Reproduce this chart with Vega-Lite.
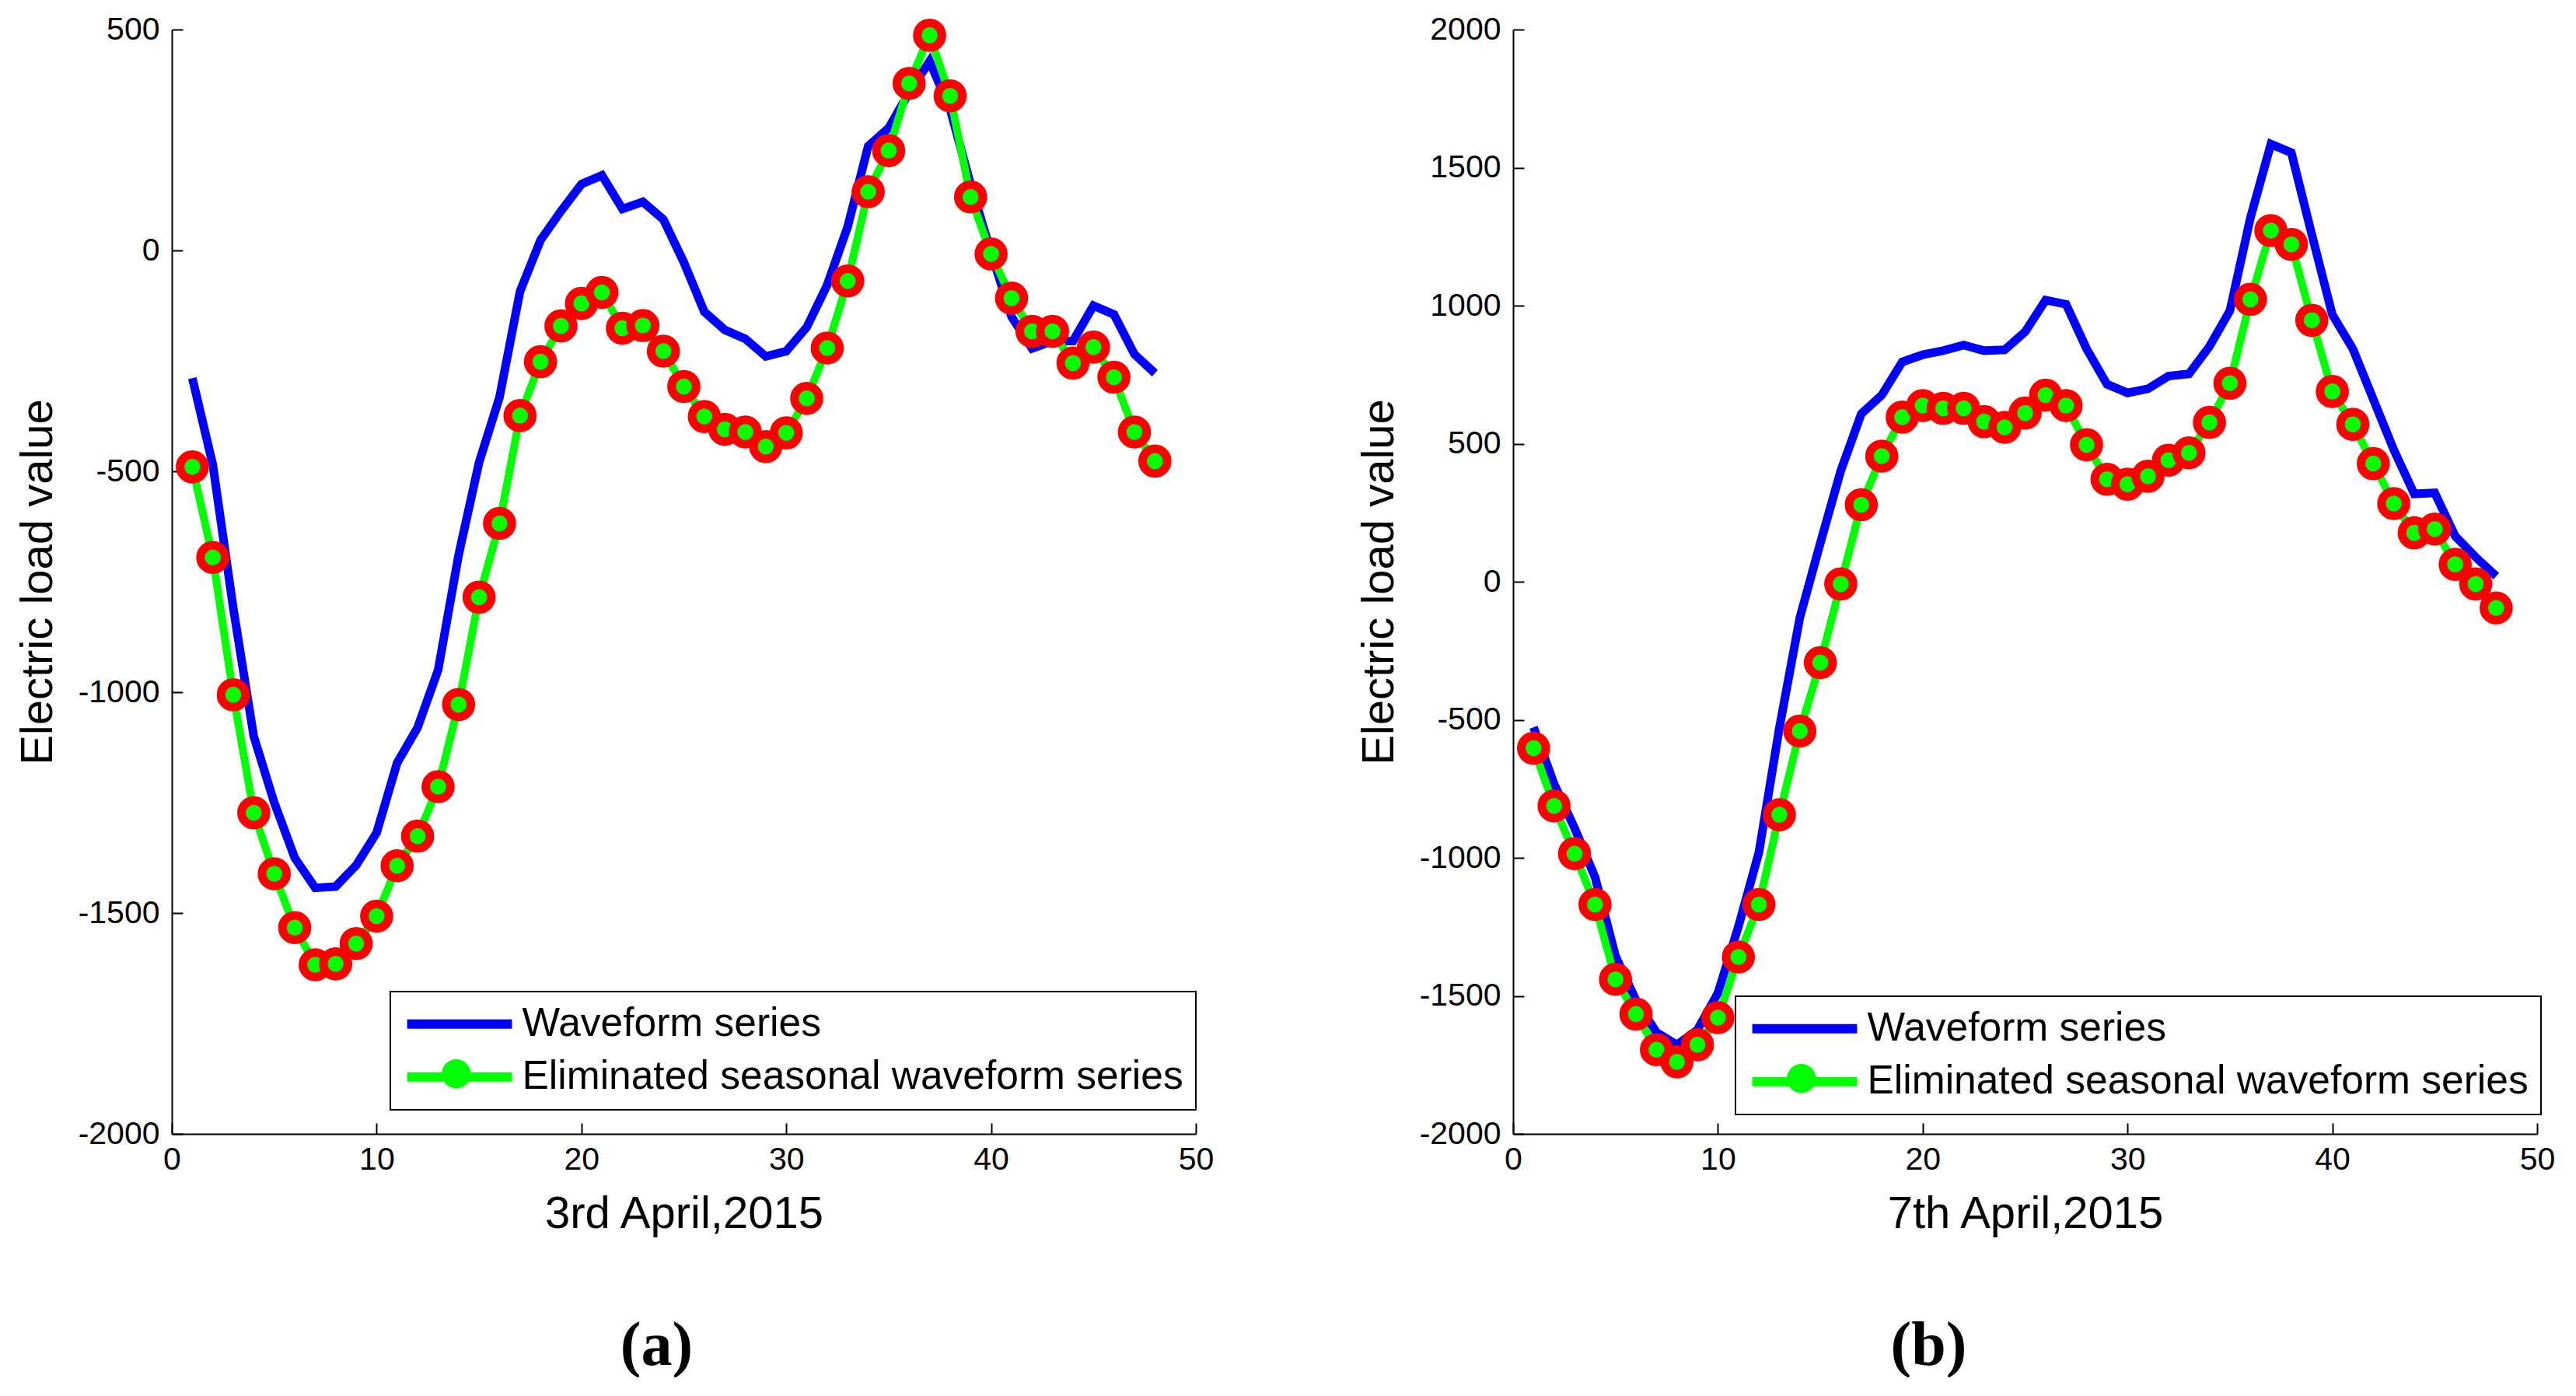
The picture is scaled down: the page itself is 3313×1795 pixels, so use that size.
{
  "$schema": "https://vega.github.io/schema/vega-lite/v6.json",
  "padding": {"left": 20, "top": 7, "right": 0, "bottom": 0},
  "background": "white",
  "config": {
    "view": {"stroke": null},
    "font": "Liberation Sans",
    "axis": {
      "domainColor": "black", "domainWidth": 2,
      "tickColor": "black", "tickWidth": 2, "tickSize": -14,
      "labelFont": "Liberation Sans", "labelFontSize": 41, "labelColor": "black",
      "titleFont": "Liberation Sans", "titleFontSize": 58, "titleFontWeight": "normal", "titleColor": "black",
      "grid": false, "labelFlush": false, "labelOverlap": false
    }
  },
  "datasets": {
    "a": [
      {"x":1,"s":"W","v":-289},{"x":2,"s":"W","v":-485},{"x":3,"s":"W","v":-810},{"x":4,"s":"W","v":-1100},{"x":5,"s":"W","v":-1250},{"x":6,"s":"W","v":-1375},{"x":7,"s":"W","v":-1443},{"x":8,"s":"W","v":-1440},{"x":9,"s":"W","v":-1392},{"x":10,"s":"W","v":-1318},{"x":11,"s":"W","v":-1160},{"x":12,"s":"W","v":-1080},{"x":13,"s":"W","v":-950},{"x":14,"s":"W","v":-690},{"x":15,"s":"W","v":-480},{"x":16,"s":"W","v":-332},{"x":17,"s":"W","v":-93},{"x":18,"s":"W","v":23},{"x":19,"s":"W","v":89},{"x":20,"s":"W","v":150},{"x":21,"s":"W","v":170},{"x":22,"s":"W","v":94},{"x":23,"s":"W","v":110},{"x":24,"s":"W","v":70},{"x":25,"s":"W","v":-27},{"x":26,"s":"W","v":-139},{"x":27,"s":"W","v":-180},{"x":28,"s":"W","v":-200},{"x":29,"s":"W","v":-240},{"x":30,"s":"W","v":-228},{"x":31,"s":"W","v":-174},{"x":32,"s":"W","v":-78},{"x":33,"s":"W","v":54},{"x":34,"s":"W","v":236},{"x":35,"s":"W","v":277},{"x":36,"s":"W","v":358},{"x":37,"s":"W","v":428},{"x":38,"s":"W","v":320},{"x":39,"s":"W","v":150},{"x":40,"s":"W","v":-5},{"x":41,"s":"W","v":-150},{"x":42,"s":"W","v":-222},{"x":43,"s":"W","v":-205},{"x":44,"s":"W","v":-205},{"x":45,"s":"W","v":-125},{"x":46,"s":"W","v":-145},{"x":47,"s":"W","v":-235},{"x":48,"s":"W","v":-278},
      {"x":1,"s":"E","v":-490},{"x":2,"s":"E","v":-695},{"x":3,"s":"E","v":-1006},{"x":4,"s":"E","v":-1273},{"x":5,"s":"E","v":-1411},{"x":6,"s":"E","v":-1533},{"x":7,"s":"E","v":-1617},{"x":8,"s":"E","v":-1615},{"x":9,"s":"E","v":-1569},{"x":10,"s":"E","v":-1507},{"x":11,"s":"E","v":-1393},{"x":12,"s":"E","v":-1326},{"x":13,"s":"E","v":-1214},{"x":14,"s":"E","v":-1028},{"x":15,"s":"E","v":-785},{"x":16,"s":"E","v":-618},{"x":17,"s":"E","v":-374},{"x":18,"s":"E","v":-252},{"x":19,"s":"E","v":-171},{"x":20,"s":"E","v":-120},{"x":21,"s":"E","v":-95},{"x":22,"s":"E","v":-176},{"x":23,"s":"E","v":-170},{"x":24,"s":"E","v":-228},{"x":25,"s":"E","v":-308},{"x":26,"s":"E","v":-376},{"x":27,"s":"E","v":-405},{"x":28,"s":"E","v":-411},{"x":29,"s":"E","v":-444},{"x":30,"s":"E","v":-413},{"x":31,"s":"E","v":-335},{"x":32,"s":"E","v":-221},{"x":33,"s":"E","v":-69},{"x":34,"s":"E","v":133},{"x":35,"s":"E","v":226},{"x":36,"s":"E","v":378},{"x":37,"s":"E","v":487},{"x":38,"s":"E","v":350},{"x":39,"s":"E","v":121},{"x":40,"s":"E","v":-8},{"x":41,"s":"E","v":-108},{"x":42,"s":"E","v":-183},{"x":43,"s":"E","v":-183},{"x":44,"s":"E","v":-255},{"x":45,"s":"E","v":-219},{"x":46,"s":"E","v":-287},{"x":47,"s":"E","v":-411},{"x":48,"s":"E","v":-477}
    ],
    "b": [
      {"x":1,"s":"W","v":-527},{"x":2,"s":"W","v":-732},{"x":3,"s":"W","v":-892},{"x":4,"s":"W","v":-1070},{"x":5,"s":"W","v":-1356},{"x":6,"s":"W","v":-1516},{"x":7,"s":"W","v":-1632},{"x":8,"s":"W","v":-1677},{"x":9,"s":"W","v":-1623},{"x":10,"s":"W","v":-1490},{"x":11,"s":"W","v":-1249},{"x":12,"s":"W","v":-981},{"x":13,"s":"W","v":-530},{"x":14,"s":"W","v":-130},{"x":15,"s":"W","v":140},{"x":16,"s":"W","v":402},{"x":17,"s":"W","v":608},{"x":18,"s":"W","v":676},{"x":19,"s":"W","v":796},{"x":20,"s":"W","v":822},{"x":21,"s":"W","v":837},{"x":22,"s":"W","v":857},{"x":23,"s":"W","v":837},{"x":24,"s":"W","v":840},{"x":25,"s":"W","v":905},{"x":26,"s":"W","v":1020},{"x":27,"s":"W","v":1005},{"x":28,"s":"W","v":844},{"x":29,"s":"W","v":715},{"x":30,"s":"W","v":684},{"x":31,"s":"W","v":699},{"x":32,"s":"W","v":745},{"x":33,"s":"W","v":753},{"x":34,"s":"W","v":852},{"x":35,"s":"W","v":982},{"x":36,"s":"W","v":1318},{"x":37,"s":"W","v":1585},{"x":38,"s":"W","v":1554},{"x":39,"s":"W","v":1257},{"x":40,"s":"W","v":967},{"x":41,"s":"W","v":844},{"x":42,"s":"W","v":661},{"x":43,"s":"W","v":478},{"x":44,"s":"W","v":318},{"x":45,"s":"W","v":322},{"x":46,"s":"W","v":165},{"x":47,"s":"W","v":89},{"x":48,"s":"W","v":20},
      {"x":1,"s":"E","v":-603},{"x":2,"s":"E","v":-812},{"x":3,"s":"E","v":-985},{"x":4,"s":"E","v":-1169},{"x":5,"s":"E","v":-1440},{"x":6,"s":"E","v":-1566},{"x":7,"s":"E","v":-1695},{"x":8,"s":"E","v":-1739},{"x":9,"s":"E","v":-1677},{"x":10,"s":"E","v":-1579},{"x":11,"s":"E","v":-1359},{"x":12,"s":"E","v":-1169},{"x":13,"s":"E","v":-844},{"x":14,"s":"E","v":-541},{"x":15,"s":"E","v":-293},{"x":16,"s":"E","v":-8},{"x":17,"s":"E","v":279},{"x":18,"s":"E","v":455},{"x":19,"s":"E","v":596},{"x":20,"s":"E","v":638},{"x":21,"s":"E","v":628},{"x":22,"s":"E","v":628},{"x":23,"s":"E","v":580},{"x":24,"s":"E","v":559},{"x":25,"s":"E","v":611},{"x":26,"s":"E","v":676},{"x":27,"s":"E","v":638},{"x":28,"s":"E","v":496},{"x":29,"s":"E","v":371},{"x":30,"s":"E","v":353},{"x":31,"s":"E","v":382},{"x":32,"s":"E","v":440},{"x":33,"s":"E","v":467},{"x":34,"s":"E","v":577},{"x":35,"s":"E","v":719},{"x":36,"s":"E","v":1023},{"x":37,"s":"E","v":1272},{"x":38,"s":"E","v":1222},{"x":39,"s":"E","v":947},{"x":40,"s":"E","v":689},{"x":41,"s":"E","v":570},{"x":42,"s":"E","v":428},{"x":43,"s":"E","v":283},{"x":44,"s":"E","v":177},{"x":45,"s":"E","v":191},{"x":46,"s":"E","v":63},{"x":47,"s":"E","v":-8},{"x":48,"s":"E","v":-95}
    ]
  },
  "spacing": 184,
  "resolve": {
    "scale": {"x": "independent", "y": "independent", "color": "independent", "shape": "independent"},
    "legend": {"color": "independent", "shape": "independent"}
  },
  "hconcat": [
    {
      "width": 1317, "height": 1420,
      "data": {"name": "a"},
      "title": {"text": "(a)", "orient": "bottom", "anchor": "middle", "frame": "group", "font": "Liberation Serif", "fontSize": 80, "fontWeight": "bold", "color": "black", "dx": -35, "offset": 102},
      "encoding": {
        "x": {"field": "x", "type": "quantitative", "scale": {"domain": [0, 50], "nice": false}, "axis": {"values": [0, 10, 20, 30, 40, 50], "title": "3rd April,2015", "labelPadding": 27, "titlePadding": 21}},
        "y": {"field": "v", "type": "quantitative", "scale": {"domain": [-2000, 500], "nice": false, "zero": false}, "axis": {"values": [-2000, -1500, -1000, -500, 0, 500], "title": "Electric load value", "labelPadding": 30, "titlePadding": 22, "labelExpr": "datum.value < 0 ? '-' + abs(datum.value) : '' + datum.value"}}
      },
      "layer": [
        {
          "transform": [{"filter": "datum.s === 'W'"}],
          "mark": {"type": "line", "strokeWidth": 11},
          "encoding": {"color": {"field": "s", "type": "nominal", "scale": {"domain": ["W", "E"], "range": ["#0000ff", "#00ff00"]},
            "legend": {"orient": "none", "legendX": 281, "legendY": 1237, "title": null, "symbolType": "M-1.3,0H7.4", "symbolSize": 961, "symbolStrokeWidth": 12, "symbolOffset": 0, "labelOffset": 102, "labelFont": "Liberation Sans", "labelFontSize": 51.5, "labelColor": "black", "labelLimit": 3000, "padding": 16, "rowPadding": 15, "strokeColor": "black", "fillColor": "white",
              "labelExpr": "datum.value === 'W' ? 'Waveform series' : 'Eliminated seasonal waveform series'",
              "encode": {"legend": {"update": {"strokeWidth": {"value": 2}}}}}}}
        },
        {
          "transform": [{"filter": "datum.s === 'E'"}],
          "mark": {"type": "line", "strokeWidth": 10},
          "encoding": {"color": {"field": "s", "type": "nominal", "scale": {"domain": ["W", "E"], "range": ["#0000ff", "#00ff00"]}}}
        },
        {
          "transform": [{"filter": "datum.s === 'E'"}],
          "mark": {"type": "point", "filled": true, "fill": "#00ff00", "stroke": "#ff0000", "strokeWidth": 11, "size": 1000, "opacity": 1},
          "encoding": {"shape": {"field": "s", "type": "nominal", "scale": {"domain": ["E"], "range": ["circle"]},
            "legend": {"orient": "none", "legendX": 297, "legendY": 1317, "title": null, "symbolSize": 1400, "symbolStrokeWidth": 12, "symbolFillColor": "#00ff00", "symbolStrokeColor": "#ff0000", "symbolOpacity": 1, "symbolOffset": 43, "labelFontSize": 51.5, "labelFont": "Liberation Sans", "padding": 0,
              "labelExpr": "''",
              "encode": {"symbols": {"update": {"size": {"value": 1400}, "strokeWidth": {"value": 12}, "fill": {"value": "#00ff00"}, "stroke": {"value": "#ff0000"}, "opacity": {"value": 1}, "fillOpacity": {"value": 1}, "strokeOpacity": {"value": 1}}}}}}}
        }
      ]
    },
    {
      "width": 1317, "height": 1420,
      "data": {"name": "b"},
      "title": {"text": "(b)", "orient": "bottom", "anchor": "middle", "frame": "group", "font": "Liberation Serif", "fontSize": 80, "fontWeight": "bold", "color": "black", "dx": -124, "offset": 102},
      "encoding": {
        "x": {"field": "x", "type": "quantitative", "scale": {"domain": [0, 50], "nice": false}, "axis": {"values": [0, 10, 20, 30, 40, 50], "title": "7th April,2015", "labelPadding": 27, "titlePadding": 21}},
        "y": {"field": "v", "type": "quantitative", "scale": {"domain": [-2000, 2000], "nice": false, "zero": false}, "axis": {"values": [-2000, -1500, -1000, -500, 0, 500, 1000, 1500, 2000], "title": "Electric load value", "labelPadding": 30, "titlePadding": 22, "labelExpr": "datum.value < 0 ? '-' + abs(datum.value) : '' + datum.value"}}
      },
      "layer": [
        {
          "transform": [{"filter": "datum.s === 'W'"}],
          "mark": {"type": "line", "strokeWidth": 11},
          "encoding": {"color": {"field": "s", "type": "nominal", "scale": {"domain": ["W", "E"], "range": ["#0000ff", "#00ff00"]},
            "legend": {"orient": "none", "legendX": 286, "legendY": 1243, "title": null, "symbolType": "M-1.3,0H7.4", "symbolSize": 961, "symbolStrokeWidth": 12, "symbolOffset": 0, "labelOffset": 102, "labelFont": "Liberation Sans", "labelFontSize": 51.5, "labelColor": "black", "labelLimit": 3000, "padding": 16, "rowPadding": 15, "strokeColor": "black", "fillColor": "white",
              "labelExpr": "datum.value === 'W' ? 'Waveform series' : 'Eliminated seasonal waveform series'",
              "encode": {"legend": {"update": {"strokeWidth": {"value": 2}}}}}}}
        },
        {
          "transform": [{"filter": "datum.s === 'E'"}],
          "mark": {"type": "line", "strokeWidth": 10},
          "encoding": {"color": {"field": "s", "type": "nominal", "scale": {"domain": ["W", "E"], "range": ["#0000ff", "#00ff00"]}}}
        },
        {
          "transform": [{"filter": "datum.s === 'E'"}],
          "mark": {"type": "point", "filled": true, "fill": "#00ff00", "stroke": "#ff0000", "strokeWidth": 11, "size": 1000, "opacity": 1},
          "encoding": {"shape": {"field": "s", "type": "nominal", "scale": {"domain": ["E"], "range": ["circle"]},
            "legend": {"orient": "none", "legendX": 302, "legendY": 1323, "title": null, "symbolSize": 1400, "symbolStrokeWidth": 12, "symbolFillColor": "#00ff00", "symbolStrokeColor": "#ff0000", "symbolOpacity": 1, "symbolOffset": 43, "labelFontSize": 51.5, "labelFont": "Liberation Sans", "padding": 0,
              "labelExpr": "''",
              "encode": {"symbols": {"update": {"size": {"value": 1400}, "strokeWidth": {"value": 12}, "fill": {"value": "#00ff00"}, "stroke": {"value": "#ff0000"}, "opacity": {"value": 1}, "fillOpacity": {"value": 1}, "strokeOpacity": {"value": 1}}}}}}}
        }
      ]
    }
  ]
}
